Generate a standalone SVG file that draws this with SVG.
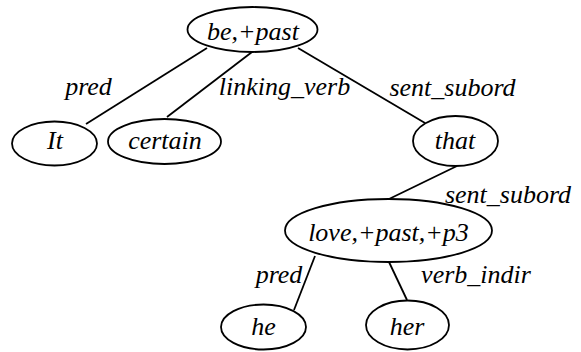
<svg xmlns="http://www.w3.org/2000/svg" width="581" height="352" viewBox="0 0 581 352">
<style>
.n ellipse{fill:#fff;stroke:#000;stroke-width:1.8}
text{font-style:italic;font-size:26px;text-anchor:middle;fill:#000}
.e line{stroke:#000;stroke-width:1.8}
</style>
<rect width="581" height="352" fill="#fff"/>
<g class="e" id="connectors">
<line x1="207" y1="48" x2="86" y2="124"/>
<line x1="252" y1="52" x2="167" y2="117"/>
<line x1="298" y1="48" x2="425" y2="123"/>
<line x1="457" y1="166" x2="389" y2="199"/>
<line x1="315" y1="256" x2="294" y2="310"/>
<line x1="389" y1="262" x2="407" y2="300"/>
</g>
<g id="edge-labels" font-family="Liberation Serif, DejaVu Serif, serif">
<text x="88.5" y="95">pred</text>
<text x="284.5" y="95">linking_verb</text>
<text x="452.5" y="96">sent_subord</text>
<text x="508" y="203">sent_subord</text>
<text x="279" y="283">pred</text>
<text x="476" y="283">verb_indir</text>
</g>
<g font-family="Liberation Serif, DejaVu Serif, serif">
<g class="n" id="node-be"><ellipse cx="252.5" cy="29.5" rx="65" ry="22.5"/><text x="253" y="40">be,+past</text></g>
<g class="n" id="node-it"><ellipse cx="54.5" cy="143.5" rx="42.5" ry="22"/><text x="55" y="149">It</text></g>
<g class="n" id="node-certain"><ellipse cx="164.5" cy="141.5" rx="56.5" ry="22.5"/><text x="165" y="149">certain</text></g>
<g class="n" id="node-that"><ellipse cx="455.5" cy="141" rx="42.5" ry="25"/><text x="455" y="149">that</text></g>
<g class="n" id="node-love"><ellipse cx="388.5" cy="230.5" rx="103.5" ry="31.5"/><text x="388.5" y="241">love,+past,+p3</text></g>
<g class="n" id="node-he"><ellipse cx="263.5" cy="327" rx="42.5" ry="22.5"/><text x="263.5" y="335">he</text></g>
<g class="n" id="node-her"><ellipse cx="407.5" cy="325" rx="41.5" ry="24.5"/><text x="407" y="335">her</text></g>
</g>
</svg>
